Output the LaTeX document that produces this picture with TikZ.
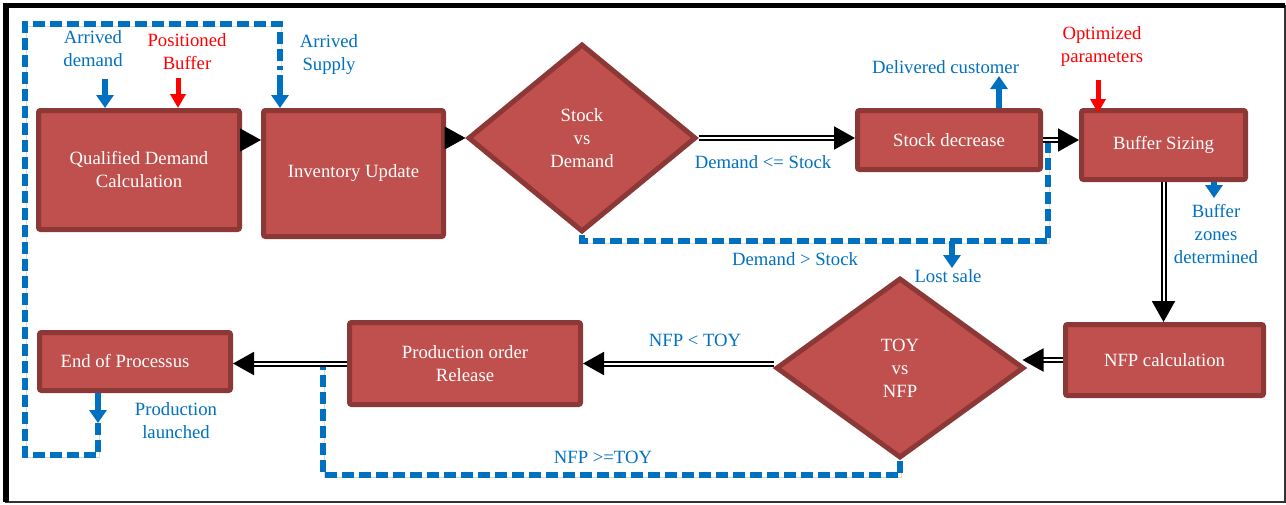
\documentclass[tikz,border=0pt]{standalone}
\usepackage{fontspec}
\setmainfont{Liberation Serif}
\usetikzlibrary{arrows.meta,shapes.geometric,calc}
\definecolor{boxfill}{HTML}{C0504D}
\definecolor{boxline}{HTML}{8C3836}
\definecolor{lblue}{HTML}{0070C0}
\begin{document}
\begin{tikzpicture}[x=1pt,y=-1pt,font=\fontsize{18.7}{23}\selectfont,
  box/.style={draw=boxline,fill=boxfill,line width=5pt,rounded corners=2pt,text=white,align=center,inner sep=0pt},
  dia/.style={diamond,draw=boxline,fill=boxfill,line width=5pt,text=white,align=center,inner sep=0pt},
  lbl/.style={text=lblue,align=center,inner sep=0pt},
  rlbl/.style={text=red,align=center,inner sep=0pt},
  blk/.style={-{Triangle[length=21pt,width=23pt]},line width=1pt},
  dbl/.style={double,double distance=2pt,line width=2pt,-{Triangle[length=21pt,width=23pt]}},
  barrow/.style={lblue,line width=5.5pt,-{Triangle[length=13pt,width=17pt]}},
  rarrow/.style={red,line width=5pt,-{Triangle[length=14pt,width=15pt]}},
  dsh/.style={lblue,line width=5.5pt,dash pattern=on 12pt off 5pt,
    preaction={draw=black!25,opacity=0.6,transform canvas={shift={(1.5pt,-2.5pt)}}}}
]
\useasboundingbox (0,0) rectangle (1286,504);
% frame
\draw[line width=1.5pt,black!80] (6,5.5) rectangle (1285,502);
\draw[line width=5.5pt] (6,502) -- (6,5.5) -- (1285,5.5);

% boxes
\node[box,minimum width=201pt,minimum height=119pt] (qdc) at (139,170) {Qualified Demand\\Calculation};
\node[box,minimum width=180pt,minimum height=126pt] (inv) at (353.5,173.5) {Inventory Update};
\node[dia,minimum width=228pt,minimum height=188pt] (svd) at (582,138) {Stock\\vs\\Demand};
\node[box,minimum width=183pt,minimum height=59pt] (sd) at (949,140) {Stock decrease};
\node[box,minimum width=164pt,minimum height=69pt] (bs) at (1163.5,145) {Buffer Sizing};
\node[box,minimum width=198pt,minimum height=71pt] (nfpc) at (1164.5,360) {NFP calculation};
\node[dia,minimum width=248pt,minimum height=180pt] (toy) at (900,368) {TOY\\vs\\NFP};
\node[box,minimum width=231pt,minimum height=82pt] (por) at (465,363.5) {Production order\\Release};
\node[box,minimum width=191pt,minimum height=58pt] (eop) at (135,361.5) {\hspace*{-20pt}End of Processus};

% labels
\node[lbl] (l-ad) at (93,48.5) {Arrived\\demand};
\node[rlbl] (l-pb) at (187,51.5) {Positioned\\Buffer};
\node[lbl] (l-as) at (329,55) {Arrived\\Supply};
\node[lbl] (l-dc) at (945.5,67) {Delivered customer};
\node[rlbl] (l-op) at (1102,46) {Optimized\\parameters};
\node[lbl] (l-dle) at (763,162) {Demand <= Stock};
\node[lbl] (l-dgt) at (795,259) {Demand > Stock};
\node[lbl] (l-ls) at (948,276) {Lost sale};
\node[lbl] (l-bz) at (1216,234) {Buffer\\zones\\determined};
\node[lbl] (l-lt) at (695,340) {NFP < TOY};
\node[lbl] (l-ge) at (603,457) {NFP >=TOY};
\node[lbl] (l-pl) at (176,421) {Production\\launched};

% coordinates
\coordinate (ad) at (105,79);
\coordinate (pb) at (178,78);
\coordinate (as1) at (280,24);
\coordinate (as2) at (280,75);
\coordinate (pl) at (98,423);
\coordinate (bl) at (25,455);
\coordinate (dc) at (999,76);
\coordinate (op1) at (1098,80);
\coordinate (op2) at (1098,113);
\coordinate (bz) at (1214,198);
\coordinate (d2) at (1048,241);
\coordinate (ls) at (952,268);
\coordinate (d3) at (323,475);

% dashed loops
\draw[dsh] (pl) -- (pl |- bl) -- (bl) -- (bl |- as1) -- (as1) -- (280,70);
\draw[dsh] (svd.south) -- (svd.south |- d2) -- (d2) -- (1048,143);
\draw[dsh] (toy.south) -- (toy.south |- d3) -- (d3) -- (323,365);

% blue / red arrows
\draw[barrow] (ad) -- (ad |- qdc.north);
\draw[rarrow] (pb) -- (pb |- qdc.north);
\draw[barrow] (as2) -- (as2 |- inv.north);
\draw[barrow] (eop.south -| pl) -- (pl);
\draw[barrow] (sd.north -| dc) -- (dc);
\draw[rarrow] (op1) -- (op2);
\draw[barrow] (bs.south -| bz) -- (bz);
\draw[barrow] (ls |- d2) -- (ls);

% black flow arrows
\draw[blk] ([yshift=30pt]qdc.east) -- ([yshift=30pt]qdc.east -| inv.west);
\draw[blk] (inv.east |- svd.west) -- (svd.west);
\draw[dbl] (svd.east) -- (svd.east -| sd.west);
\draw[dbl] (sd.east) -- (sd.east -| bs.west);
\draw[dbl] (bs.south) -- (bs.south |- nfpc.north);
\draw[dbl] (nfpc.west) -- ([xshift=-4pt]toy.east |- nfpc.west);
\draw[dbl] (toy.west |- por.east) -- (por.east);
\draw[dbl] (por.west) -- (por.west -| eop.east);
\end{tikzpicture}
\end{document}
